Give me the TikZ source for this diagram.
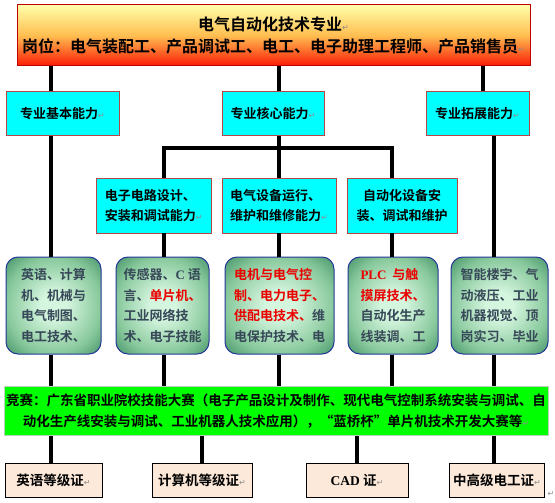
\documentclass[tikz,border=0pt]{standalone}
\usepackage{fontspec}
\setmainfont{Noto Sans CJK SC}[BoldFont={Noto Sans CJK SC Bold}]
\newfontfamily\latinbold{Liberation Serif}
\newfontfamily\markfont{DejaVu Sans}
\usepackage{xcolor}
\usepackage{tikz}
\usetikzlibrary{calc}
\definecolor{titleyellow}{RGB}{255,255,170}
\definecolor{titleorange}{RGB}{255,190,80}
\definecolor{titlered}{RGB}{250,25,5}
\definecolor{titleborder}{RGB}{192,0,0}
\definecolor{cyanfill}{RGB}{0,255,255}
\definecolor{cyanborder}{RGB}{180,70,70}
\definecolor{mintlight}{RGB}{212,245,222}
\definecolor{mintmid}{RGB}{135,200,155}
\definecolor{mintdark}{RGB}{68,145,104}
\definecolor{skillborder}{RGB}{35,55,150}
\definecolor{skilltext}{RGB}{55,72,88}
\definecolor{hotred}{RGB}{235,0,0}
\definecolor{contestgreen}{RGB}{0,255,0}
\definecolor{contestborder}{RGB}{185,210,185}
\definecolor{certfill}{RGB}{253,233,217}
\definecolor{markgray}{RGB}{140,140,140}
\pgfdeclareradialshading{skillglow}{\pgfpoint{0bp}{0bp}}{%
  color(0bp)=(mintlight); color(7bp)=(mintlight); color(25bp)=(mintmid);
  color(36bp)=(mintdark); color(50bp)=(mintdark)}
\newcommand{\pmark}{{\markfont\mdseries\fontsize{8}{8}\selectfont\textcolor{markgray}{↵}}}
\newcommand{\eng}[1]{{\latinbold\bfseries #1}}

\begin{document}
\begin{tikzpicture}[
  x=1pt, y=-1pt,
  every node/.style={font=\bfseries},
  titlebox/.style={
    rectangle, draw=titleborder, line width=1pt,
    top color=titleyellow, bottom color=titlered, middle color=titleorange,
    minimum width=513pt, minimum height=61pt,
    align=center, font=\bfseries\fontsize{16}{22}\selectfont
  },
  abilitybox/.style={
    rectangle, draw=cyanborder, line width=0.9pt,
    fill=cyanfill, inner sep=2pt,
    font=\bfseries\fontsize{13}{20.5}\selectfont
  },
  skillbox/.style={
    rectangle, rounded corners=12pt,
    draw=skillborder, line width=1pt,
    shade, shading=skillglow,
    minimum height=97pt, inner sep=2pt,
    align=left, text=skilltext,
    font=\bfseries\fontsize{13}{20.5}\selectfont
  },
  contestbox/.style={
    rectangle, draw=contestborder, line width=1pt,
    fill=contestgreen,
    minimum width=540pt, minimum height=49pt, inner sep=2pt,
    align=center, font=\bfseries\fontsize{13.5}{21}\selectfont
  },
  certbox/.style={
    rectangle, draw=black, line width=0.9pt,
    fill=certfill, minimum height=34pt,
    font=\bfseries\fontsize{13.5}{16}\selectfont
  },
  link/.style={line width=3.2pt, draw=black}
]
\useasboundingbox (0,0) rectangle (555,503);

% Title - major and posts
\node[titlebox] (title) at (273.5,35.5) {电气自动化技术专业\pmark\\
  岗位：电气装配工、产品调试工、电工、电子助理工程师、产品销售员\pmark};

% Second row - three ability groups
\node[abilitybox, minimum width=113pt, minimum height=44.5pt] (base) at (62.5,113.25) {专业基本能力\pmark};
\node[abilitybox, minimum width=102pt, minimum height=44.5pt] (core) at (273,113.25) {专业核心能力\pmark};
\node[abilitybox, minimum width=103pt, minimum height=44.5pt] (expand) at (477.5,113.25) {专业拓展能力\pmark};

% Third row - core abilities in detail
\node[abilitybox, minimum width=114.5pt, minimum height=55pt, align=left] (circuit) at (153.75,205.5)
  {电子电路设计、\\安装和调试能力\pmark};
\node[abilitybox, minimum width=114pt, minimum height=55pt, align=left] (oper) at (279,205.5)
  {电气设备运行、\\维护和维修能力\pmark};
\node[abilitybox, minimum width=110pt, minimum height=55pt, align=center] (autom) at (402,205.5)
  {自动化设备安\\装、调试和维护};

% Fourth row - courses
\node[skillbox, minimum width=95pt] (skillA) at (53.5,305.5)
  {英语、计算\\机、机械与\\电气制图、\\电工技术、};
\node[skillbox, minimum width=93pt] (skillB) at (162.5,305.5)
  {传感器、\eng{C} 语\\言、\textcolor{hotred}{单片机、}\\工业网络技\\术、电子技能};
\node[skillbox, minimum width=109pt] (skillC) at (279.5,305.5)
  {\textcolor{hotred}{电机与电气控}\\\textcolor{hotred}{制、电力电子、}\\\textcolor{hotred}{供配电技术、}维\\电保护技术、电};
\node[skillbox, minimum width=90pt] (skillD) at (393,305.5)
  {\textcolor{hotred}{\eng{PLC}\ \ 与触}\\\textcolor{hotred}{摸屏技术、}\\自动化生产\\线装调、工};
\node[skillbox, minimum width=97pt] (skillE) at (499.5,305.5)
  {智能楼宇、气\\动液压、工业\\机器视觉、顶\\岗实习、毕业};

% Contests
\node[contestbox] (contest) at (276,411.3)
  {竞赛：广东省职业院校技能大赛（电子产品设计及制作、现代电气控制系统安装与调试、自\\
  动化生产线安装与调试、工业机器人技术应用），“蓝桥杯”单片机技术开发大赛等\pmark};

% Bottom row - certificates
\node[certbox, minimum width=97pt] (certA) at (53.5,480) {英语等级证\pmark};
\node[certbox, minimum width=100pt] (certB) at (202,480) {计算机等级证\pmark};
\node[certbox, minimum width=102pt] (certC) at (357,480) {\eng{CAD} 证\pmark};
\node[certbox, minimum width=94pt] (certD) at (497,480) {中高级电工证\pmark};
\node[inner sep=0pt] (strayMark) at (551,494) {\pmark};

% Column positions of the connectors
\coordinate (colA) at (51,0);
\coordinate (colB) at (164,0);
\coordinate (colC) at (279,0);
\coordinate (colD) at (392,0);
\coordinate (colE) at (494,0);
\coordinate (colR) at (483,0);
\coordinate (colF) at (202,0);
\coordinate (colG) at (357,0);
\coordinate (bus) at (0,148);

% Title to ability groups
\draw[link] (title.south -| colA) -- (base.north -| colA);
\draw[link] (title.south -| colC) -- (core.north -| colC);
\draw[link] (title.south -| colR) -- (expand.north -| colR);

% Ability groups downwards
\draw[link] (base.south -| colA) -- (skillA.north -| colA);
\draw[link] (core.south -| colC) -- (oper.north -| colC);
\draw[link] (circuit.north -| colB) -- (colB |- bus) -- (colD |- bus) -- (autom.north -| colD);
\draw[link] (expand.south -| colE) -- (skillE.north -| colE);

% Core abilities to courses
\draw[link] (circuit.south -| colB) -- (skillB.north -| colB);
\draw[link] (oper.south -| colC) -- (skillC.north -| colC);
\draw[link] (autom.south -| colD) -- (skillD.north -| colD);

% Courses to contests, contests to certificates
\foreach \s/\c in {skillA/colA, skillB/colB, skillC/colC, skillD/colD, skillE/colE}
  \draw[link] (\s.south -| \c) -- (contest.north -| \c);
\foreach \s/\c in {certA/colA, certB/colF, certC/colG, certD/colE}
  \draw[link] (contest.south -| \c) -- (\s.north -| \c);

\end{tikzpicture}
\end{document}
